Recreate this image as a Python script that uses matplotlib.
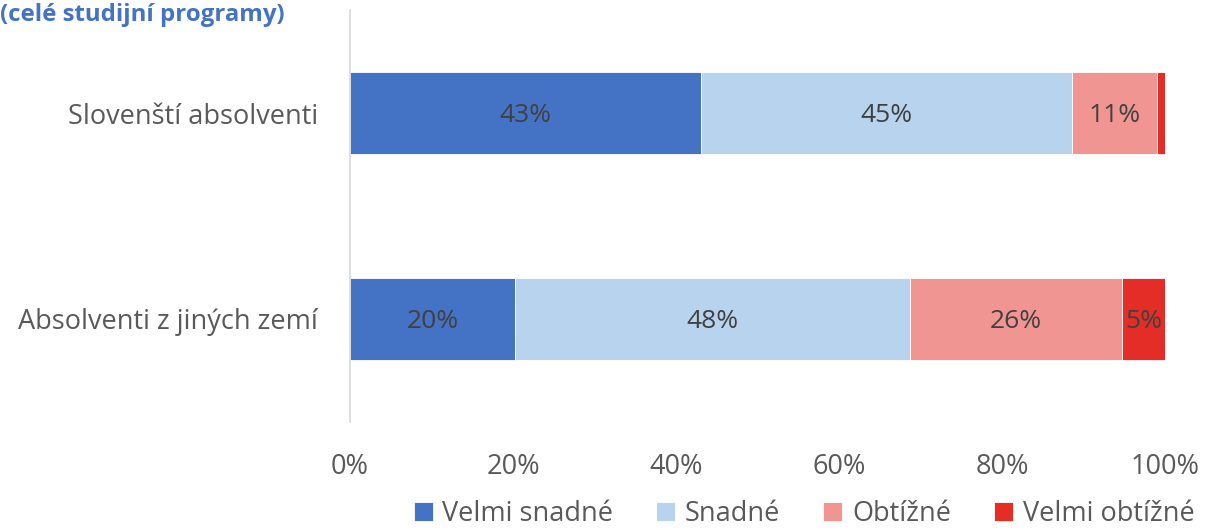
import matplotlib
matplotlib.use("Agg")
import matplotlib.pyplot as plt
import numpy as np

plt.rcParams['font.family'] = ['Open Sans', 'DejaVu Sans']

categories = ["Absolventi z jiných zemí", "Slovenští absolventi"]
series_names = ["Velmi snadné", "Snadné", "Obtížné", "Velmi obtížné"]
velmi_snadne = [20.2, 43.1]
snadne = [48.5, 45.5]
obtizne = [26.0, 10.4]
velmi_obtizne = [5.3, 1.0]
labels = [["20%", "43%"], ["48%", "45%"], ["26%", "11%"], ["5%", ""]]
colors = ["#4472C4", "#B8D3EE", "#F19593", "#E32D26"]
xticks = [0, 20, 40, 60, 80, 100]
xtick_labels = ["0%", "20%", "40%", "60%", "80%", "100%"]

W, H = 1209, 530
fig = plt.figure(figsize=(W / 100, H / 100), dpi=100)
ax = fig.add_axes([350 / W, 1 - 422 / H, (1165 - 350) / W, 412 / H])

data = [velmi_snadne, snadne, obtizne, velmi_obtizne]
y = np.arange(len(categories))
left = np.zeros(len(categories))
for vals, name, col, labs in zip(data, series_names, colors, labels):
    bars = ax.barh(y, vals, left=left, height=0.4, color=col, label=name,
                   edgecolor="white", linewidth=0.6)
    for b, lab in zip(bars, labs):
        if lab:
            ax.text(b.get_x() + b.get_width() / 2, b.get_y() + b.get_height() / 2,
                    lab, ha="center", va="center_baseline", fontsize=19, color="#404040")
    left = left + np.array(vals)

ax.set_xlim(0, 100)
ax.set_ylim(-0.5, 1.5)
ax.set_yticks(y)
ax.set_yticklabels(categories, fontsize=19.5, color="#595959")
ax.set_xticks(xticks)
ax.set_xticklabels(xtick_labels, fontsize=19.5, color="#595959")
ax.tick_params(axis="both", length=0)
ax.tick_params(axis="y", pad=23)
ax.tick_params(axis="x", pad=22)
for s in ["top", "right", "bottom"]:
    ax.spines[s].set_visible(False)
ax.spines["left"].set_color("#D9D9D9")
ax.spines["left"].set_linewidth(1.2)

fig.text(0, 1 - 15 / H, "(celé studijní programy)", fontsize=17.3, fontweight="bold",
         color="#4472C4", ha="left", va="center")

fig.legend(loc="center", bbox_to_anchor=(804 / W, 1 - 514 / H), ncol=4, frameon=False,
           fontsize=19.5, labelcolor="#595959", handlelength=0.7, handleheight=0.7,
           handletextpad=0.35, columnspacing=1.6, borderaxespad=0, borderpad=0.1)

fig.savefig("out.png", dpi=100)
